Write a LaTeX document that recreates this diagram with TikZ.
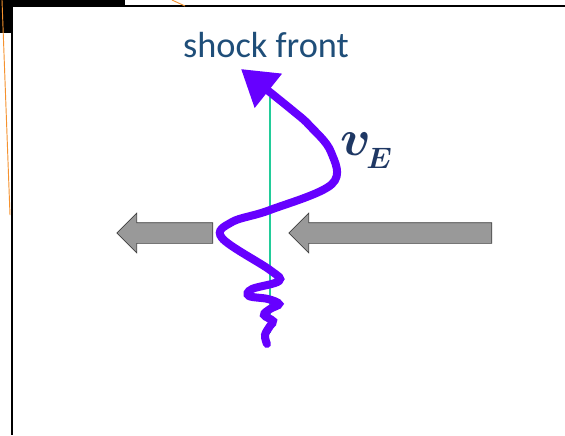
\documentclass[tikz,border=0pt]{standalone}
\usepackage{tikz}
\usetikzlibrary{shapes,shapes.arrows,arrows.meta,positioning,calc}
\usepackage{xcolor}
\usepackage{amsmath,amssymb,bm}
\usepackage{fontspec}
\setmainfont{Carlito}
\definecolor{primary}{HTML}{1F4E79}
\definecolor{darkblue}{HTML}{1F3864}
\definecolor{wavepurple}{HTML}{6600FF}
\definecolor{frontgreen}{HTML}{22CC99}
\definecolor{arrowgrey}{HTML}{999999}
\definecolor{edgegrey}{HTML}{404040}
\definecolor{orangehl}{HTML}{F5922F}

\begin{document}
\begin{tikzpicture}[x=0.03cm, y=-0.03cm,
  garr/.style={single arrow, draw=edgegrey, fill=arrowgrey, line width=0.6pt, inner xsep=0pt, inner ysep=0.3cm,
    single arrow tip angle=90, single arrow head extend=0.285cm, shape border rotate=180},
  wave/.style={wavepurple, line width=0.24cm, line cap=round, -{Triangle[length=1.05cm, width=1.25cm]}}
]
  \useasboundingbox (0,0) rectangle (565,435);
  % slide frame
  \fill[black] (0,0) rectangle (125,6);
  \fill[black] (0,0) rectangle (12,33);
  \draw[black, line width=2pt] (565,6) -- (12,6) -- (12,435);
  \draw[orangehl, line width=0.8pt] (2,0) -- (10,215);
  \draw[orangehl, line width=0.8pt] (172,0) -- (185,6);
  % shock front
  \node[font=\fontsize{31}{36}\selectfont, primary] (lbl) at (266,45) {shock front};
  \coordinate (ftop) at (270,97);
  \coordinate (fbot) at (270,333);
  \draw[frontgreen, line width=1.5pt] (ftop) -- (fbot);
  % flow arrows
  \node[garr, minimum height=2.88cm] (la) at (170,233) {};
  \node[garr, minimum height=6.09cm] (ra) at (395.5,233) {};
  % E x B drift wave
  \draw[wave] plot[smooth, tension=0.6] coordinates {(267,344) (265,335) (270,326) (273,321) (264,315) (270,309) (279,304) (268,299) (249,296) (252,289) (279,281) (270,270) (222,238) (232,222) (270,210) (332,184) (331,152) (310,126) (292,110) (241,69)};
  \node[darkblue, font=\fontsize{20}{24}\selectfont, scale=2.1, inner sep=0pt, anchor=base west] (ve) at (340,155) {$\bm{v}$\kern-2pt\lower5.5pt\hbox{\fontsize{12}{14}\selectfont$\bm{E}$}};
\end{tikzpicture}
\end{document}
